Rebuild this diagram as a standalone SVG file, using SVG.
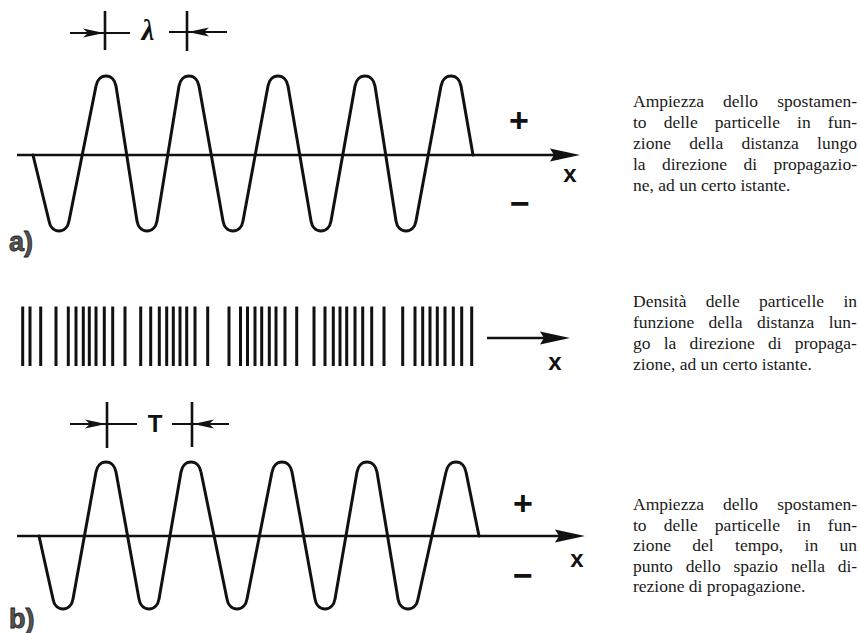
<svg xmlns="http://www.w3.org/2000/svg" width="860" height="633" viewBox="0 0 860 633">
<defs>
<marker id="axisHead" viewBox="0 0 30 14" refX="6" refY="7" markerWidth="30" markerHeight="14" markerUnits="userSpaceOnUse" orient="auto">
<path d="M0,0.5 L30,7 L0,13.5 L4,7 Z" fill="#111"/>
</marker>
<path id="dimHead" d="M0,0 L-21,-4.5 L-16,0 L-21,4.5 Z" fill="#111"/>
</defs>
<style>
.wave{fill:none;stroke:#111;stroke-width:3;stroke-linejoin:round;stroke-linecap:round}
.axis{fill:none;stroke:#111;stroke-width:2.5}
.dim{fill:none;stroke:#111;stroke-width:2.2}
.tick{fill:none;stroke:#111;stroke-width:2.6}
.bar{fill:none;stroke:#111;stroke-width:3}
.sym{font-family:"Liberation Sans",Arial,sans-serif;font-weight:bold;fill:#111}
.cap{font-family:"Liberation Serif","Times New Roman",serif;font-size:17.5px;fill:#1a1a1a}
.lab{font-family:"Liberation Sans",Arial,sans-serif;font-weight:bold;fill:#555;stroke:#222;stroke-width:0.8}
</style>
<rect width="860" height="633" fill="#fff"/>

<g id="panel-a">
<g id="dim-lambda">
<path class="dim" d="M70,33 H130 M169,32 H227"/>
<path class="tick" d="M105,11 V50 M187,11 V51"/>
<use href="#dimHead" transform="translate(104,33)"/>
<use href="#dimHead" transform="translate(188,32) rotate(180)"/>
<text class="sym" x="148" y="40" text-anchor="middle" style="font-family:'Liberation Serif',serif;font-style:italic;font-size:29px">λ</text>
</g>
<path id="wave-a" class="wave" d="M33,155 L49,221 C49.9,226.4 53.5,231 59,231 C64.5,231 68.1,226.4 69,221 L96,86 C96.9,80.6 100.5,76 106,76 C111.5,76 115.1,80.6 116,86 L137,221 C137.9,226.4 141.5,231 147,231 C152.5,231 156.1,226.4 157,221 L179,86 C179.9,80.6 183.5,76 189,76 C194.5,76 198.1,80.6 199,86 L223,221 C223.9,226.4 227.5,231 233,231 C238.5,231 242.1,226.4 243,221 L268,86 C268.9,80.6 272.5,76 278,76 C283.5,76 287.1,80.6 288,86 L311,221 C311.9,226.4 315.5,231 321,231 C326.5,231 330.1,226.4 331,221 L355,86 C355.9,80.6 359.5,76 365,76 C370.5,76 374.1,80.6 375,86 L396,221 C396.9,226.4 400.5,231 406,231 C411.5,231 415.1,226.4 416,221 L441,86 C441.9,80.6 445.5,76 451,76 C456.5,76 460.1,80.6 461,86 L473,155"/>
<text class="sym" x="519" y="132" text-anchor="middle" font-size="34">+</text>
<text class="sym" x="520" y="215" text-anchor="middle" font-size="34">−</text>
<text class="sym" x="570" y="182" text-anchor="middle" font-size="24">x</text>
<text class="lab" x="9" y="251" font-size="27">a)</text>
</g>

<g id="density">
<path class="bar" d="M22.7,306.5V366 M30,306.5V366 M40.7,306.5V366 M56,306.5V366 M68.3,306.5V366 M76,306.5V366 M83.3,306.5V366 M89.3,306.5V366 M96,306.5V366 M104.3,306.5V366 M112.7,306.5V366 M125,306.5V366 M140.7,306.5V366 M150.7,306.5V366 M159.3,306.5V366 M166.7,306.5V366 M173.3,306.5V366 M180,306.5V366 M186.7,306.5V366 M195,306.5V366 M207.7,306.5V366 M229,306.5V366 M240.5,306.5V366 M247.5,306.5V366 M255,306.5V366 M261.7,306.5V366 M269.3,306.5V366 M276,306.5V366 M285,306.5V366 M296.7,306.5V366 M314,306.5V366 M325,306.5V366 M333.3,306.5V366 M340,306.5V366 M346.7,306.5V366 M355,306.5V366 M362.7,306.5V366 M371.7,306.5V366 M384,306.5V366 M402.7,306.5V366 M415,306.5V366 M422.7,306.5V366 M430,306.5V366 M437.3,306.5V366 M445,306.5V366 M453.3,306.5V366 M461.7,306.5V366 M471.7,306.5V366"/>
<text class="sym" x="555" y="370" text-anchor="middle" font-size="24">x</text>
</g>

<g id="panel-b">
<g id="dim-T">
<path class="dim" d="M70,424 H137 M172,424 H229"/>
<path class="tick" d="M107,402 V448 M192,402 V447"/>
<use href="#dimHead" transform="translate(106,424)"/>
<use href="#dimHead" transform="translate(193,424) rotate(180)"/>
<text class="sym" x="155" y="432" text-anchor="middle" font-size="24">T</text>
</g>
<path id="wave-b" class="wave" d="M39,536 L53,599 C53.9,604.4 57.5,609 63,609 C68.5,609 72.1,604.4 73,599 L96,472 C96.9,466.6 100.5,462 106,462 C111.5,462 115.1,466.6 116,472 L139,599 C139.9,604.4 143.5,609 149,609 C154.5,609 158.1,604.4 159,599 L181,472 C181.9,466.6 185.5,462 191,462 C196.5,462 200.1,466.6 201,472 L227,599 C227.9,604.4 231.5,609 237,609 C242.5,609 246.1,604.4 247,599 L272,472 C272.9,466.6 276.5,462 282,462 C287.5,462 291.1,466.6 292,472 L315,599 C315.9,604.4 319.5,609 325,609 C330.5,609 334.1,604.4 335,599 L357,472 C357.9,466.6 361.5,462 367,462 C372.5,462 376.1,466.6 377,472 L398,599 C398.9,604.4 402.5,609 408,609 C413.5,609 417.1,604.4 418,599 L446,472 C446.9,466.6 450.5,462 456,462 C461.5,462 465.1,466.6 466,472 L479,536"/>
<text class="sym" x="523" y="515" text-anchor="middle" font-size="34">+</text>
<text class="sym" x="523" y="587" text-anchor="middle" font-size="34">−</text>
<text class="sym" x="577" y="567" text-anchor="middle" font-size="24">x</text>
<text class="lab" x="9" y="628" font-size="27">b)</text>
</g>

<g id="connectors">
<path class="axis" d="M17,155 H556" marker-end="url(#axisHead)"/>
<path class="axis" d="M487,338 H546" marker-end="url(#axisHead)"/>
<path class="axis" d="M17,536 H561" marker-end="url(#axisHead)"/>
</g>

<g id="caption-a">
<text class="cap" x="633" y="107" word-spacing="14.8">Ampiezza dello spostamen-</text>
<text class="cap" x="633" y="128" word-spacing="12.75">to delle particelle in fun-</text>
<text class="cap" x="633" y="149" word-spacing="13.9">zione della distanza lungo</text>
<text class="cap" x="633" y="170" word-spacing="12">la direzione di propagazio-</text>
<text class="cap" x="633" y="191">ne, ad un certo istante.</text>
</g>
<g id="caption-density">
<text class="cap" x="633" y="307" word-spacing="14.9">Densità delle particelle in</text>
<text class="cap" x="633" y="328" word-spacing="10">funzione della distanza lun-</text>
<text class="cap" x="633" y="349" word-spacing="8.85">go la direzione di propaga-</text>
<text class="cap" x="633" y="370">zione, ad un certo istante.</text>
</g>
<g id="caption-b">
<text class="cap" x="633" y="510" word-spacing="14.8">Ampiezza dello spostamen-</text>
<text class="cap" x="633" y="531" word-spacing="12.75">to delle particelle in fun-</text>
<text class="cap" x="633" y="551" word-spacing="17">zione del tempo, in un</text>
<text class="cap" x="633" y="572" word-spacing="8.4">punto dello spazio nella di-</text>
<text class="cap" x="633" y="592">rezione di propagazione.</text>
</g>
</svg>
